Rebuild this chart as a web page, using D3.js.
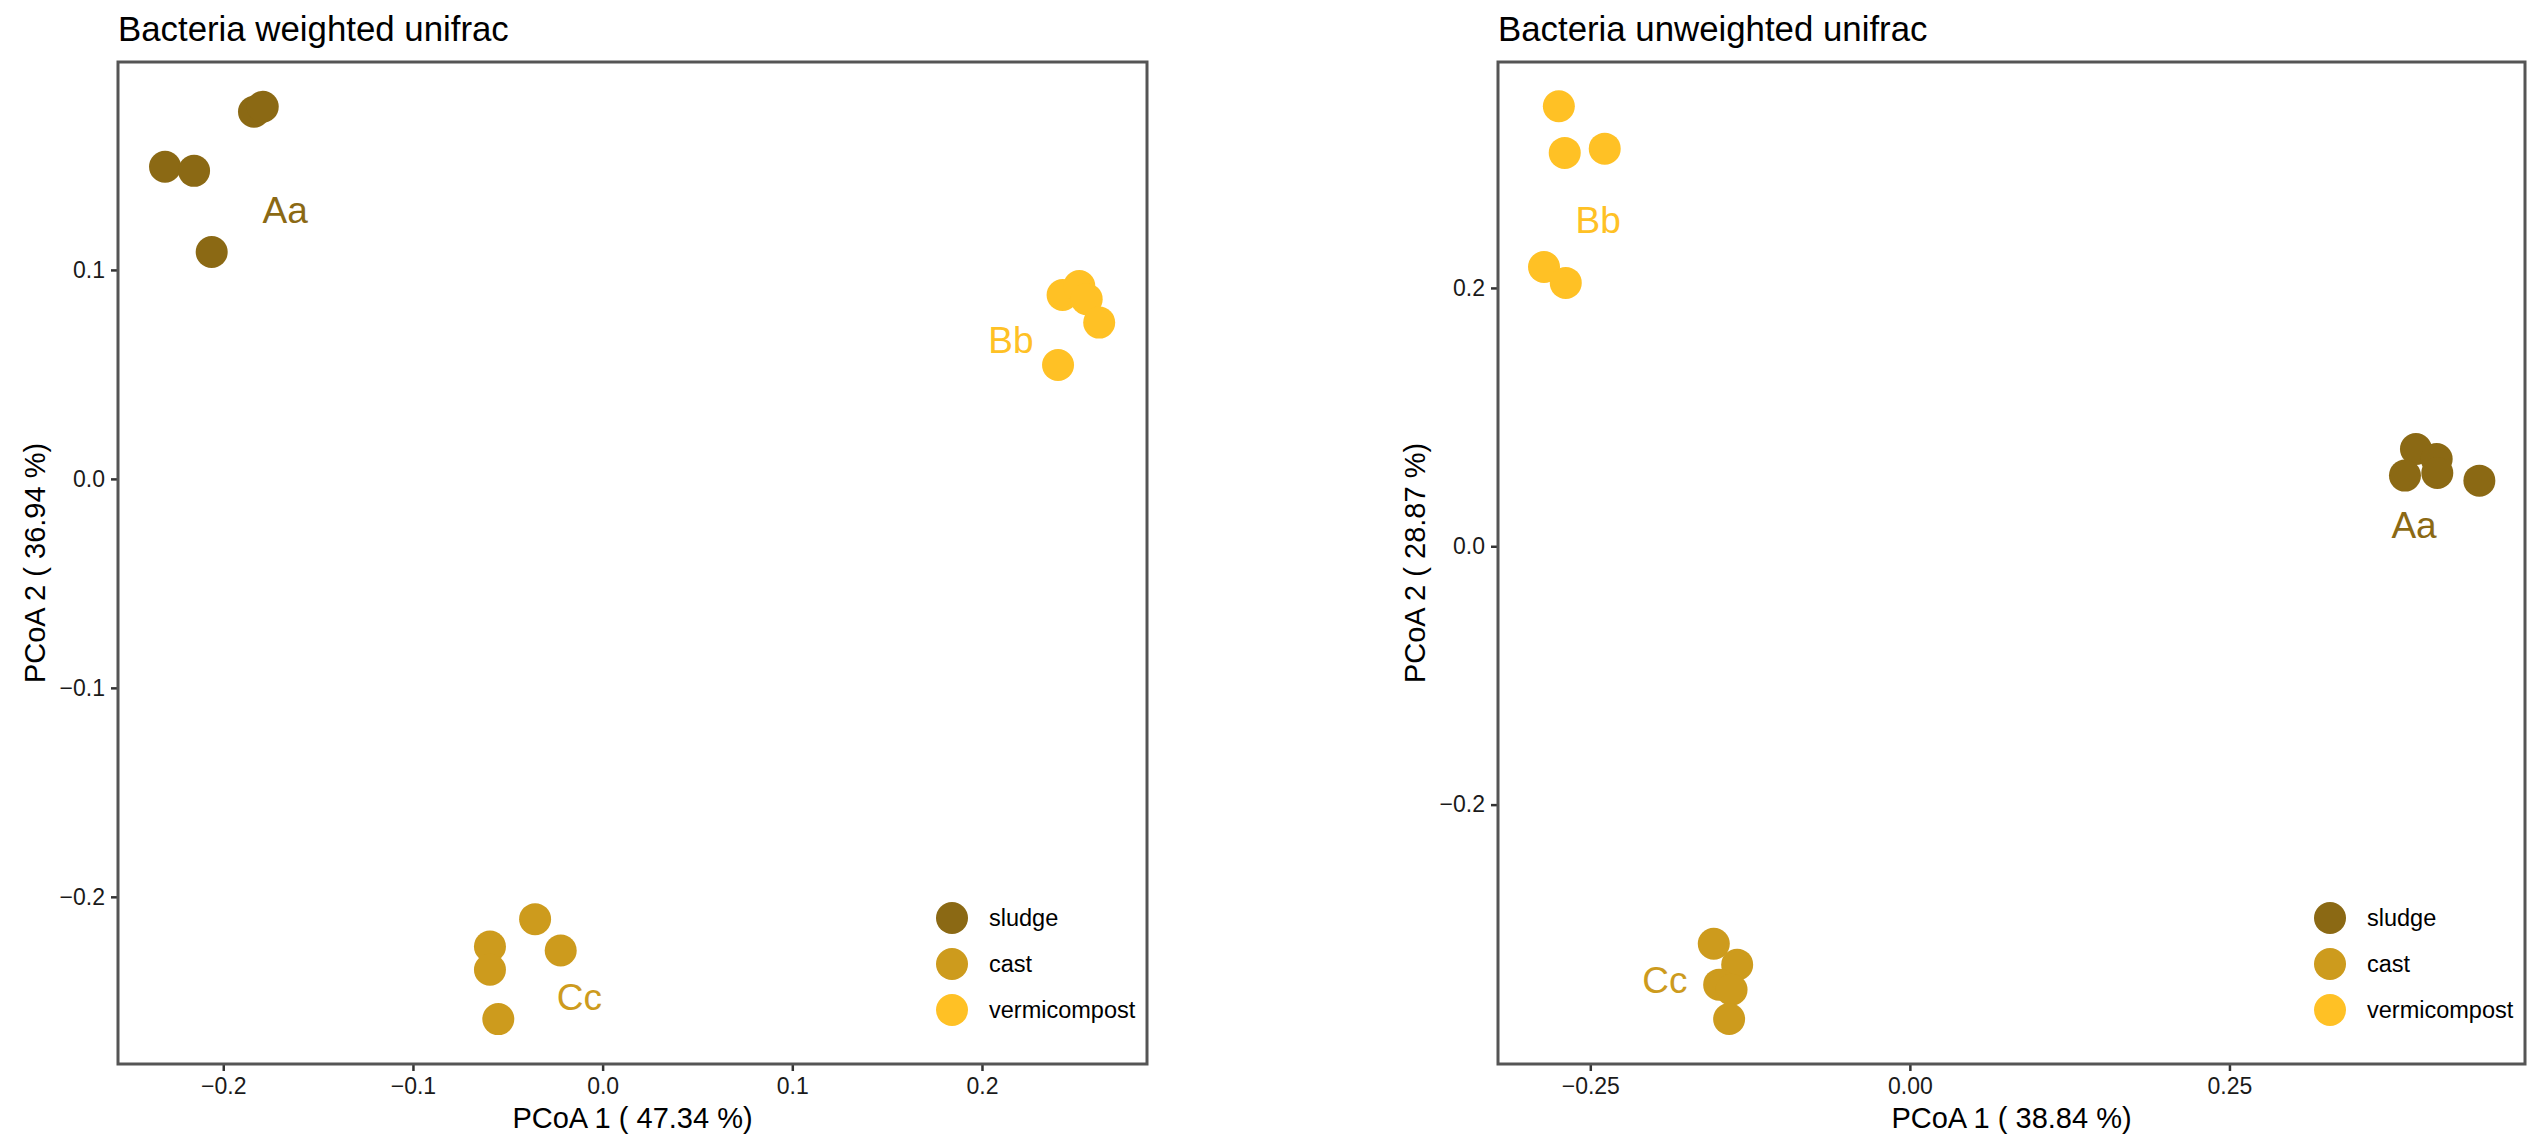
<!DOCTYPE html>
<html>
<head>
<meta charset="utf-8">
<script src="https://cdn.jsdelivr.net/npm/d3@7"></script>
<style>
  body { margin: 0; background: #fff; }
  svg { display: block; font-family: Arial, "Liberation Sans", Helvetica, sans-serif; }
</style>
</head>
<body>
<script>
// groups and colours
var groups = ["sludge", "cast", "vermicompost"];
var groupColors = ["#8B6914", "#CD9B1D", "#FFC125"];
var groupLabels = ["Aa", "Cc", "Bb"];

// weighted unifrac, 5 samples per group
var wSludgeX = [-0.2307, -0.2154, -0.1838, -0.1792, -0.2061];
var wSludgeY = [0.1494, 0.1474, 0.1757, 0.1781, 0.1086];
var wCastX = [-0.0356, -0.0594, -0.0594, -0.0221, -0.0550];
var wCastY = [-0.2107, -0.2238, -0.2349, -0.2257, -0.2585];
var wVermiX = [0.2425, 0.2513, 0.2552, 0.2618, 0.2401];
var wVermiY = [0.0880, 0.0923, 0.0860, 0.0748, 0.0545];
// label positions (sludge, cast, vermicompost)
var wLabelX = [-0.1674, -0.0123, 0.2153];
var wLabelY = [0.1287, -0.2477, 0.0665];
var wXTicks = [-0.2, -0.1, 0.0, 0.1, 0.2];
var wYTicks = [-0.2, -0.1, 0.0, 0.1];

// unweighted unifrac
var uSludgeX = [0.3959, 0.4121, 0.3873, 0.4126, 0.4455];
var uSludgeY = [0.0753, 0.0676, 0.0547, 0.0567, 0.0508];
var uCastX = [-0.1534, -0.1351, -0.1492, -0.1395, -0.1414];
var uCastY = [-0.3077, -0.3239, -0.3394, -0.3433, -0.3660];
var uVermiX = [-0.2746, -0.2700, -0.2387, -0.2862, -0.2692];
var uVermiY = [0.3406, 0.3045, 0.3078, 0.2162, 0.2039];
var uLabelX = [0.3944, -0.1917, -0.2439];
var uLabelY = [0.0167, -0.3355, 0.2528];
var uXTicks = [-0.25, 0.00, 0.25];
var uYTicks = [-0.2, 0.0, 0.2];

var W = 2529, H = 1140;
var svg = d3.select("body").append("svg").attr("width", W).attr("height", H);

function toPoints(xs, ys, g) {
    return xs.map(function (x, i) { return { x: x, y: ys[i], group: g }; });
}

function createPanel(spec) {
    var left = spec.left, right = spec.right, top = 62, bottom = 1064;
    var x = d3.scaleLinear().domain(spec.xDomain).range([left, right]);
    var y = d3.scaleLinear().domain(spec.yDomain).range([bottom, top]);
    var g = svg.append("g");

    // axes
    var ax = g.append("g").attr("transform", "translate(0," + bottom + ")")
        .call(d3.axisBottom(x).tickValues(spec.xTicks).tickFormat(d3.format(spec.xFmt)).tickSize(7).tickPadding(7));
    var ay = g.append("g").attr("transform", "translate(" + left + ",0)")
        .call(d3.axisLeft(y).tickValues(spec.yTicks).tickFormat(d3.format(spec.yFmt)).tickSize(7).tickPadding(6));
    [ax, ay].forEach(function (a) {
        a.select(".domain").remove();
        a.selectAll(".tick line").attr("stroke", "#333").attr("stroke-width", 2.5);
        a.selectAll(".tick text").attr("fill", "#1a1a1a").style("font-size", "23px");
    });

    // points
    var pts = [].concat(
        toPoints(spec.sludgeX, spec.sludgeY, 0),
        toPoints(spec.castX, spec.castY, 1),
        toPoints(spec.vermiX, spec.vermiY, 2));
    g.append("g").selectAll("circle").data(pts).enter().append("circle")
        .attr("cx", function (d) { return x(d.x); })
        .attr("cy", function (d) { return y(d.y); })
        .attr("r", 16)
        .attr("fill", function (d) { return groupColors[d.group]; });

    // group letters
    g.append("g").selectAll("text").data(groupLabels).enter().append("text")
        .attr("x", function (d, i) { return x(spec.labelX[i]); })
        .attr("y", function (d, i) { return y(spec.labelY[i]); })
        .attr("text-anchor", "middle").attr("dy", "0.36em")
        .style("font-size", "37px")
        .attr("fill", function (d, i) { return groupColors[i]; })
        .text(function (d) { return d; });

    // border
    g.append("rect").attr("x", left).attr("y", top)
        .attr("width", right - left).attr("height", bottom - top)
        .attr("fill", "none").attr("stroke", "#555").attr("stroke-width", 3);

    // legend inside bottom right
    var lg = g.append("g");
    groups.forEach(function (name, i) {
        var ly = bottom - 146 + i * 46;
        lg.append("circle").attr("cx", right - 195).attr("cy", ly).attr("r", 16).attr("fill", groupColors[i]);
        lg.append("text").attr("x", right - 158).attr("y", ly).attr("dy", "0.35em")
            .style("font-size", "23.5px").attr("fill", "#000").text(name);
    });

    // titles
    g.append("text").attr("x", left).attr("y", 41).style("font-size", "34.8px").attr("fill", "#000").text(spec.title);
    g.append("text").attr("x", (left + right) / 2).attr("y", 1128).attr("text-anchor", "middle")
        .style("font-size", "29px").attr("fill", "#000").text(spec.xTitle);
    g.append("text").attr("transform", "translate(" + (left - 73) + "," + ((top + bottom) / 2) + ") rotate(-90)")
        .attr("text-anchor", "middle").style("font-size", "29px").attr("fill", "#000").text(spec.yTitle);
}

createPanel({
    left: 118, right: 1147,
    xDomain: [-0.2555, 0.287], yDomain: [-0.280, 0.1995],
    xTicks: wXTicks, yTicks: wYTicks, xFmt: ".1f", yFmt: ".1f",
    sludgeX: wSludgeX, sludgeY: wSludgeY, castX: wCastX, castY: wCastY, vermiX: wVermiX, vermiY: wVermiY,
    labelX: wLabelX, labelY: wLabelY,
    title: "Bacteria weighted unifrac", xTitle: "PCoA 1 ( 47.34 %)", yTitle: "PCoA 2 ( 36.94 %)"
});

createPanel({
    left: 1498, right: 2525,
    xDomain: [-0.3222, 0.4812], yDomain: [-0.4008, 0.3749],
    xTicks: uXTicks, yTicks: uYTicks, xFmt: ".2f", yFmt: ".1f",
    sludgeX: uSludgeX, sludgeY: uSludgeY, castX: uCastX, castY: uCastY, vermiX: uVermiX, vermiY: uVermiY,
    labelX: uLabelX, labelY: uLabelY,
    title: "Bacteria unweighted unifrac", xTitle: "PCoA 1 ( 38.84 %)", yTitle: "PCoA 2 ( 28.87 %)"
});
</script>
</body>
</html>
